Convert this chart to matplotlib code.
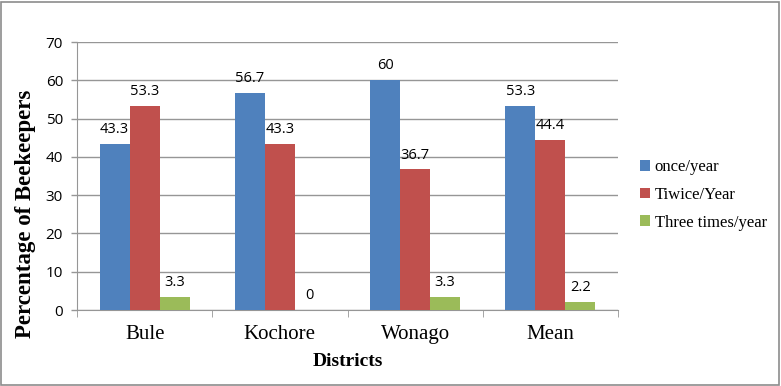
import matplotlib
matplotlib.use("Agg")
import matplotlib.pyplot as plt
from matplotlib.patches import Rectangle
import numpy as np

categories = ["Bule", "Kochore", "Wonago", "Mean"]
series_names = ["once/year", "Tiwice/Year", "Three times/year"]
once = [43.3, 56.7, 60, 53.3]
twice = [53.3, 43.3, 36.7, 44.4]
three = [3.3, 0, 3.3, 2.2]
labels_once = ["43.3", "56.7", "60", "53.3"]
labels_twice = ["53.3", "43.3", "36.7", "44.4"]
labels_three = ["3.3", "0", "3.3", "2.2"]
colors = ["#4F81BD", "#C0504D", "#9BBB59"]

W, H = 781, 386
fig = plt.figure(figsize=(W / 100, H / 100), dpi=100)
ax = fig.add_axes([77 / W, 1 - 310 / H, (618 - 77) / W, (310 - 42) / H])

x = np.arange(len(categories))
bw = 1 / 4.5
serif = "Liberation Serif"
sans = "Open Sans"
for i, (vals, labs) in enumerate(zip([once, twice, three], [labels_once, labels_twice, labels_three])):
    pos = x + (i - 1) * bw
    ax.bar(pos, vals, width=bw, color=colors[i], label=series_names[i], zorder=3)
    for p, v, t in zip(pos, vals, labs):
        ax.annotate(t, (p, v), xytext=(0, 5), textcoords="offset points",
                    ha="center", va="bottom", fontsize=10.5, family=sans, zorder=4)

ax.set_xlim(-0.5, len(categories) - 0.5)
ax.set_ylim(0, 70)
ax.set_yticks(range(0, 71, 10))
ax.yaxis.grid(True, color="#969696", linewidth=1)
ax.set_axisbelow(True)
for s in ["top", "right"]:
    ax.spines[s].set_visible(False)
ax.spines["left"].set_color("#969696")
ax.spines["bottom"].set_color("#969696")
ax.tick_params(axis="y", length=4, width=1, color="#969696", direction="out", pad=6, labelsize=11)
for t in ax.get_yticklabels():
    t.set_family(sans)
ax.set_xticks(x)
ax.set_xticklabels(categories, family=serif, fontsize=15)
ax.tick_params(axis="x", length=0, pad=11)
ax.set_xticks(np.arange(-0.5, len(categories), 1.0), minor=True)
ax.tick_params(axis="x", which="minor", length=5, color="#969696", direction="out")

fig.text(26 / W, 1 - 214 / H, "Percentage of Beekeepers", rotation=90, ha="center", va="center",
         family=serif, fontweight="bold", fontsize=16.5)
fig.text(348 / W, 1 - 362 / H, "Districts", ha="center", va="center",
         family=serif, fontweight="bold", fontsize=14)

leg = ax.legend(loc="center left", bbox_to_anchor=(633 / W, 1 - 195 / H), bbox_transform=fig.transFigure,
                frameon=False, prop={"family": serif, "size": 12}, handlelength=0.6, handleheight=0.6,
                handletextpad=0.3, labelspacing=0.7, borderaxespad=0)

fig.patches.append(Rectangle((1 / W, 1 / H), (W - 3) / W, (H - 3) / H, transform=fig.transFigure,
                             fill=False, edgecolor="#8c8c8c", linewidth=1.2))
fig.savefig("out.png", dpi=100)
